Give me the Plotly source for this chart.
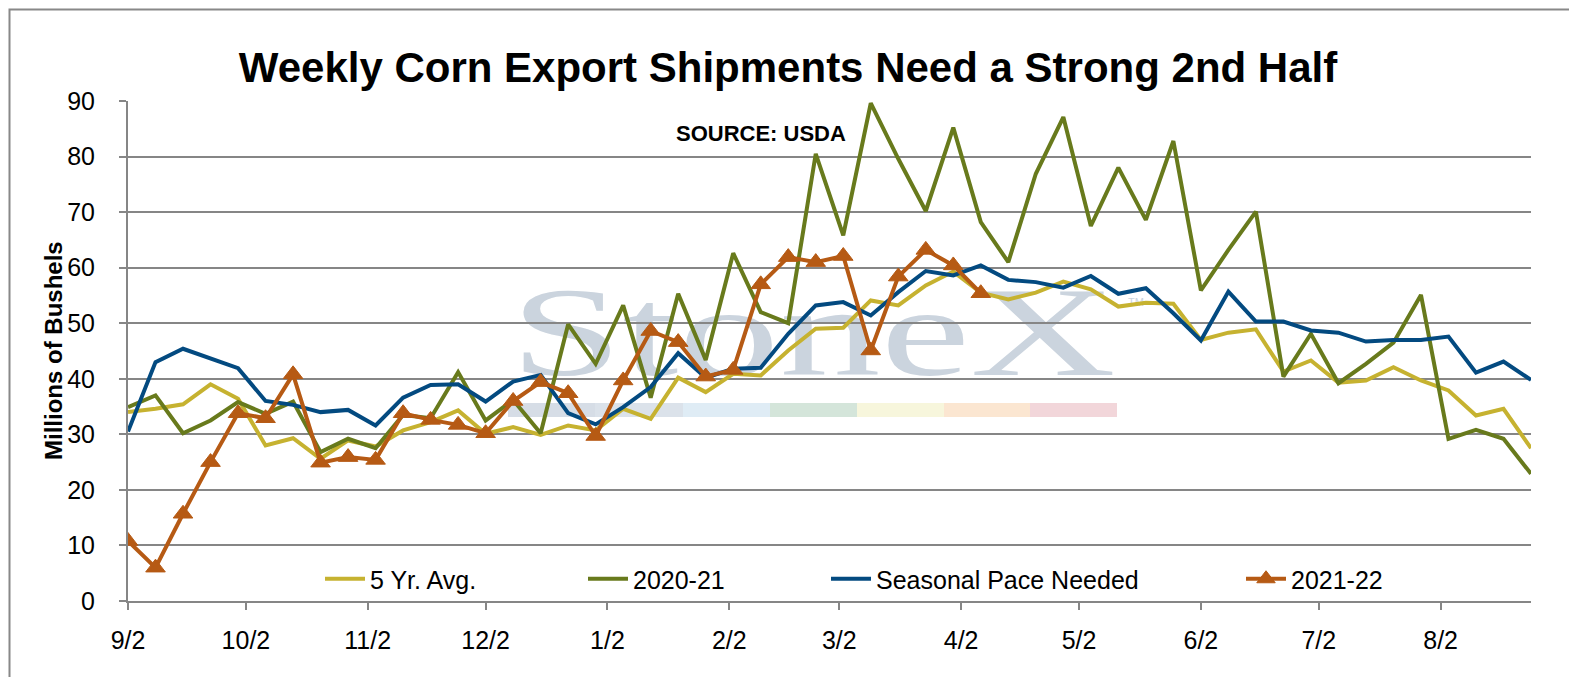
import base64
import pandas as pd
import plotly.graph_objects as go

# weekly dates, Thursday to Thursday
weeks = pd.date_range('2021-09-02', periods=52, freq='7D')

# millions of bushels
avg_5yr = [34.0, 34.6, 35.4, 39.0, 36.4, 28.0, 29.3, 25.6, 28.9, 27.8,
           30.7, 32.2, 34.3, 30.1, 31.3, 29.9, 31.6, 30.7, 34.6, 32.8,
           40.2, 37.6, 40.9, 40.6, 45.1, 49.0, 49.2, 54.1, 53.2, 56.8,
           59.3, 55.5, 54.3, 55.5, 57.5, 56.1, 53.0, 53.7, 53.5, 47.0,
           48.3, 48.9, 41.3, 43.3, 39.3, 39.7, 42.1, 39.7, 37.9, 33.4,
           34.6, 27.5]

year_2020_21 = [34.9, 37.0, 30.2, 32.5, 35.8, 33.7, 35.9, 26.8, 29.2, 27.5,
                33.5, 32.9, 41.2, 32.5, 36.2, 30.2, 49.8, 42.7, 53.2, 36.6,
                55.3, 43.4, 62.6, 52.0, 50.0, 80.5, 65.8, 89.6, 79.6, 70.2,
                85.2, 68.2, 61.0, 76.9, 87.1, 67.5, 78.0, 68.6, 82.8, 55.9,
                63.2, 70.1, 40.4, 48.1, 39.2, 42.7, 46.5, 55.1, 29.2, 30.8,
                29.2, 22.9]

pace_needed = [30.5, 43.0, 45.4, 43.7, 41.9, 36.0, 35.3, 34.0, 34.4, 31.6,
               36.6, 38.9, 39.0, 35.9, 39.5, 40.7, 33.8, 31.8, 34.9, 38.5,
               44.6, 40.2, 41.8, 42.0, 48.1, 53.2, 53.8, 51.4, 55.6, 59.4,
               58.6, 60.4, 57.8, 57.4, 56.4, 58.5, 55.3, 56.3, 51.8, 46.9,
               55.7, 50.3, 50.3, 48.7, 48.3, 46.7, 47.0, 47.0, 47.6, 41.1,
               43.1, 39.8]

year_2021_22 = [10.8, 6.0, 15.7, 25.0, 33.8, 32.9, 40.8, 24.9, 25.9, 25.4,
                33.8, 32.6, 31.7, 30.2, 36.0, 39.4, 37.4, 29.7, 39.7, 48.6,
                46.6, 40.4, 41.6, 57.0, 61.9, 61.0, 62.1, 45.1, 58.4, 63.2,
                60.4, 55.4] + [None] * 20

names = ['5 Yr. Avg.', '2020-21', 'Seasonal Pace Needed', '2021-22']
colors = ['#c6b230', '#687a1c', '#034a80', '#b65a14']

GRID = '#868686'
FONT = 'Liberation Sans, Arial, sans-serif'

fig = go.Figure()

series = [avg_5yr, year_2020_21, pace_needed, year_2021_22]
legends = ['legend', 'legend2', 'legend3', 'legend4']
for i, vals in enumerate(series):
    tr = dict(x=weeks, y=vals, name=names[i], legend=legends[i], showlegend=True,
              mode='lines', line=dict(color=colors[i], width=4),
              hoverinfo='skip')
    if i == 3:
        tr['mode'] = 'lines+markers'
        tr['marker'] = dict(symbol='triangle-up', size=17, color=colors[i],
                            line=dict(color=colors[i], width=1))
    fig.add_trace(go.Scatter(**tr))

# StoneX watermark, drawn under the grid
svg = '''<svg xmlns="http://www.w3.org/2000/svg" width="670" height="160" viewBox="0 0 670 160">
<text x="12" y="107" font-family="Liberation Serif, Times New Roman, serif" font-size="128"
 fill="#cbd4de" textLength="606" lengthAdjust="spacingAndGlyphs">StoneX</text>
<text x="630" y="38" font-family="Liberation Sans, Arial" font-size="11" fill="#cbd4de">TM</text>
<rect x="10" y="135" width="87" height="14" fill="#d6dde6"/>
<rect x="97" y="135" width="88" height="14" fill="#dbe2ea"/>
<rect x="185" y="135" width="87" height="14" fill="#dfecf5"/>
<rect x="272" y="135" width="87" height="14" fill="#d4e5da"/>
<rect x="359" y="135" width="87" height="14" fill="#f7f6dc"/>
<rect x="446" y="135" width="86" height="14" fill="#fbe6d1"/>
<rect x="532" y="135" width="87" height="14" fill="#f2d6da"/>
</svg>'''
uri = 'data:image/svg+xml;base64,' + base64.b64encode(svg.encode()).decode()

W, H = 1577, 677
L, R, T, B = 120, 54, 93, 84
pw, ph = W - L - R, H - T - B


def px_x(p):
    return (p - L) / pw


def px_y(p):
    return (H - B - p) / ph


fig.add_layout_image(source=uri, xref='paper', yref='paper',
                     x=px_x(490), y=px_y(260), sizex=670 / pw, sizey=160 / ph,
                     xanchor='left', yanchor='top', sizing='stretch', layer='below')

leg = dict(orientation='h', yanchor='middle', y=px_y(571), xanchor='left',
           bgcolor='rgba(0,0,0,0)', font=dict(family=FONT, size=25, color='black'),
           itemwidth=40, itemclick=False, itemdoubleclick=False)
starts = [312, 575, 818, 1233]

fig.update_layout(
    width=W, height=H, autosize=False, showlegend=True,
    margin=dict(l=L, r=R, t=T, b=B),
    paper_bgcolor='white', plot_bgcolor='rgba(0,0,0,0)',
    font=dict(family=FONT, size=25, color='black'),
    title=dict(text='<b>Weekly Corn Export Shipments Need a Strong 2nd Half</b>',
               x=780 / W, xanchor='center', xref='container',
               y=1 - 59 / H, yanchor='middle', yref='container',
               font=dict(family=FONT, size=42, color='black')),
    legend=dict(leg, x=px_x(starts[0])),
    legend2=dict(leg, x=px_x(starts[1])),
    legend3=dict(leg, x=px_x(starts[2])),
    legend4=dict(leg, x=px_x(starts[3])),
    xaxis=dict(type='date', range=['2021-09-02', '2022-08-25'],
               tick0='2021-09-02', dtick='M1', tickformat='%-m/%-d',
               showgrid=False, showline=True, linecolor=GRID, linewidth=2,
               ticks='outside', ticklen=7, tickcolor=GRID, tickwidth=2,
               ticklabelstandoff=9, tickfont=dict(size=25)),
    yaxis=dict(range=[0, 90], dtick=10, showgrid=True, gridcolor=GRID,
               gridwidth=2, showline=True, linecolor=GRID, linewidth=2,
               ticks='outside', ticklen=7, tickcolor=GRID, tickwidth=2,
               ticklabelstandoff=19, tickfont=dict(size=25), zeroline=False),
    annotations=[
        dict(text='<b>Millions of Bushels</b>', textangle=-90, xref='paper', yref='paper',
             x=px_x(45), y=0.5, xanchor='center', yanchor='middle', showarrow=False,
             font=dict(family=FONT, size=24, color='black')),
        dict(text='<b>SOURCE: USDA</b>', xref='paper', yref='paper',
             x=px_x(753), y=px_y(126), xanchor='center', yanchor='middle', showarrow=False,
             font=dict(family=FONT, size=22, color='black')),
    ],
    shapes=[dict(type='rect', xref='paper', yref='paper',
                 x0=px_x(1.5), x1=px_x(W - 1.5), y0=px_y(H - 1.5), y1=px_y(1.5),
                 line=dict(color='#888888', width=2), layer='below')],
)

fig.write_html('out.html')
